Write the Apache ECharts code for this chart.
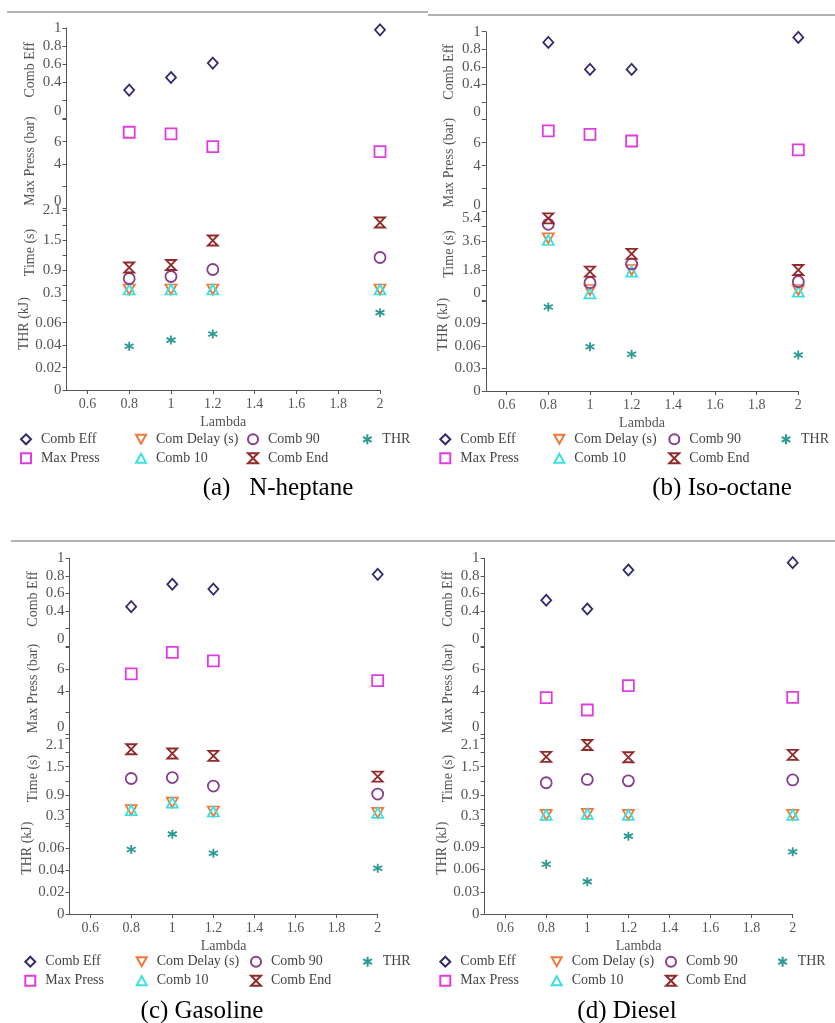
<!DOCTYPE html>
<html>
<head>
<meta charset="utf-8">
<script src="https://cdn.jsdelivr.net/npm/echarts@6/dist/echarts.min.js"></script>
<style>
  html, body { margin: 0; padding: 0; background: #fff; }
  #chart { width: 835px; height: 1023px; }
</style>
</head>
<body>
<div id="chart"></div>
<script>
// lambda values shared by all four fuels
const lambda = [0.8, 1, 1.2, 2];

// (a) N-heptane
const heptaneCombEff = [0.31, 0.45, 0.61, 0.98];
const heptaneMaxPress = [6.85, 6.7, 5.55, 5.1];
const heptaneDelay = [0.51, 0.51, 0.51, 0.51];
const heptaneComb10 = [0.51, 0.51, 0.51, 0.51];
const heptaneComb90 = [0.73, 0.77, 0.91, 1.15];
const heptaneCombEnd = [0.95, 1.0, 1.49, 1.85];
const heptaneThr = [0.039, 0.0445, 0.05, 0.069];

// (b) Iso-octane
const isoCombEff = [0.878, 0.57, 0.57, 0.935];
const isoMaxPress = [7.02, 6.73, 6.15, 5.37];
const isoDelay = [3.76, 0.61, 1.83, 0.61];
const isoComb10 = [3.66, 0.41, 1.73, 0.51];
const isoComb90 = [4.62, 1.06, 2.2, 1.12];
const isoCombEnd = [4.98, 1.73, 2.81, 1.83];
const isoThr = [0.112, 0.059, 0.049, 0.048];

// (c) Gasoline
const gasCombEff = [0.45, 0.705, 0.65, 0.818];
const gasMaxPress = [5.56, 7.56, 6.78, 4.94];
const gasDelay = [0.58, 0.74, 0.55, 0.52];
const gasComb10 = [0.58, 0.74, 0.55, 0.52];
const gasComb90 = [1.25, 1.27, 1.09, 0.92];
const gasCombEnd = [1.87, 1.78, 1.73, 1.29];
const gasThr = [0.059, 0.073, 0.0555, 0.0418];

// (d) Diesel
const dieselCombEff = [0.523, 0.424, 0.867, 0.95];
const dieselMaxPress = [3.36, 2.22, 4.47, 3.4];
const dieselDelay = [0.48, 0.5, 0.48, 0.48];
const dieselComb10 = [0.48, 0.5, 0.48, 0.48];
const dieselComb90 = [1.16, 1.23, 1.2, 1.22];
const dieselCombEnd = [1.71, 1.96, 1.7, 1.75];
const dieselThr = [0.067, 0.0436, 0.105, 0.084];

// ticks and tick labels
const lambdaTicks = [0.6, 0.8, 1, 1.2, 1.4, 1.6, 1.8, 2];
const effTicks = [0, 0.2, 0.4, 0.6, 0.8, 1];
const effLabels = [0, 0.4, 0.6, 0.8, 1];
const pressTicks = [0, 2, 4, 6, 8];
const pressLabels = [0, 4, 6];
const timeTicksSmall = [0.3, 0.6, 0.9, 1.2, 1.5, 1.8, 2.1];
const timeLabelsSmall = [0.3, 0.9, 1.5, 2.1];
const timeTicksLarge = [0, 0.9, 1.8, 2.7, 3.6, 4.5, 5.4];
const timeLabelsLarge = [0, 1.8, 3.6, 5.4];
const thrTicks08 = [0, 0.02, 0.04, 0.06, 0.08];
const thrLabels08 = [0, 0.02, 0.04, 0.06];
const thrTicks12 = [0, 0.03, 0.06, 0.09, 0.12];
const thrLabels12 = [0, 0.03, 0.06, 0.09];

const seriesNames = ['Comb Eff', 'Max Press', 'Com Delay (s)', 'Comb 10', 'Comb 90', 'Comb End', 'THR'];
const axisNames = ['Comb Eff', 'Max Press (bar)', 'Time (s)', 'THR (kJ)'];

const FONT = '"Liberation Serif", "Times New Roman", serif';
const GREY = '#555';

const marks = {
  'Comb Eff': { symbol: 'diamond', size: [10, 11], color: '#2f2c6e', grid: 0 },
  'Max Press': { symbol: 'rect', size: 11, color: '#e03ce0', grid: 1 },
  'Com Delay (s)': { symbol: 'path://M0,0L10,0L5,9Z', size: [11, 10], color: '#f07838', grid: 2 },
  'Comb 10': { symbol: 'path://M5,0L10,9L0,9Z', size: [11, 10], color: '#3ce0e0', grid: 2 },
  'Comb 90': { symbol: 'circle', size: 11, color: '#853f8c', grid: 2 },
  'Comb End': { symbol: 'path://M0,0L10,0L0,10L10,10Z', size: [10, 10], color: '#922a2a', grid: 2 },
  'THR': { symbol: 'path://M5,0L5,10M0.67,2.5L9.33,7.5M0.67,7.5L9.33,2.5', size: 9, color: '#2a9a92', grid: 3 }
};

const panels = [
  {
    x0: 66.5, x1: 380,
    bounds: [28, 119, 209, 300, 390],
    cal: [[0, 118, 1, 28], [0, 208.3, 8, 119.5], [0.3, 300, 2.1, 210], [0, 390, 0.08, 300.3]],
    time: [timeTicksSmall, timeLabelsSmall], thr: [thrTicks08, thrLabels08], shiftTop: false,
    values: [heptaneCombEff, heptaneMaxPress, heptaneDelay, heptaneComb10, heptaneComb90, heptaneCombEnd, heptaneThr],
    legendX: [25, 140, 252, 367], legendY: 439.3,
    caption: '(a)   N-heptane', capX: 278, capY: 488
  },
  {
    x0: 485.8, x1: 798.3,
    bounds: [31.7, 119.6, 211.6, 300.5, 391],
    cal: [[0, 119.5, 1, 31.7], [0, 211.7, 8, 119.7], [0, 300, 5.4, 211.5], [0, 391, 0.12, 301]],
    time: [timeTicksLarge, timeLabelsLarge], thr: [thrTicks12, thrLabels12], shiftTop: true,
    values: [isoCombEff, isoMaxPress, isoDelay, isoComb10, isoComb90, isoCombEnd, isoThr],
    legendX: [444.3, 558.3, 673.3, 785.7], legendY: 439.3,
    caption: '(b) Iso-octane', capX: 722, capY: 488
  },
  {
    x0: 69.6, x1: 377.7,
    bounds: [558.3, 647, 736, 825, 914],
    cal: [[0, 646.3, 1, 558.3], [0, 734, 8, 647.6], [0.3, 823.3, 2.1, 738.4], [0, 914, 0.08, 826.5]],
    time: [timeTicksSmall, timeLabelsSmall], thr: [thrTicks08, thrLabels08], shiftTop: true,
    values: [gasCombEff, gasMaxPress, gasDelay, gasComb10, gasComb90, gasCombEnd, gasThr],
    legendX: [29.3, 140.7, 255, 367.3], legendY: 961.7,
    caption: '(c) Gasoline', capX: 202, capY: 1011.7
  },
  {
    x0: 484.6, x1: 792.7,
    bounds: [558.3, 647, 736, 825, 914],
    cal: [[0, 646.3, 1, 558.3], [0, 734, 8, 647.6], [0.3, 823.3, 2.1, 738.4], [0, 914, 0.12, 825]],
    time: [timeTicksSmall, timeLabelsSmall], thr: [thrTicks12, thrLabels12], shiftTop: true,
    values: [dieselCombEff, dieselMaxPress, dieselDelay, dieselComb10, dieselComb90, dieselCombEnd, dieselThr],
    legendX: [444.3, 555.7, 670, 782.3], legendY: 961.7,
    caption: '(d) Diesel', capX: 627, capY: 1011.7
  }
];

const legendColumns = [['Comb Eff', 'Max Press'], ['Com Delay (s)', 'Comb 10'], ['Comb 90', 'Comb End'], ['THR']];
// how far each axis name sits above the middle of its strip
const nameLift = [4, 3, 2, 21];

function valueAt(c, px) {
  const [v0, p0, v1, p1] = c;
  return v0 + (p0 - px) * (v1 - v0) / (p0 - p1);
}

const grids = [];
const xAxes = [];
const yAxes = [];
const series = [];
const legends = [];
const graphics = [];

panels.forEach((p) => {
  const tickSets = [[effTicks, effLabels], [pressTicks, pressLabels], p.time, p.thr];
  const base = grids.length;

  for (let i = 0; i < 4; i++) {
    // neighbouring strips overlap by a pixel so the end ticks stay inside
    const top = p.bounds[i] - (i > 0 ? 0.6 : 0);
    const bottom = p.bounds[i + 1] + (i < 3 ? 0.6 : 0);
    const idx = base + i;
    const [ticks, labels] = tickSets[i];
    const lo = i < 3 ? labels[0] : null;
    const hi = i === 2 && p.shiftTop ? labels[labels.length - 1] : null;

    grids.push({
      left: p.x0, top: top, width: p.x1 - p.x0, height: bottom - top,
      containLabel: false, outerBoundsMode: 'none'
    });

    const isBottom = i === 3;
    xAxes.push({
      gridIndex: idx, type: 'value', min: 0.5, max: 2,
      show: isBottom,
      axisLine: { show: true, onZero: false, lineStyle: { color: GREY, width: 1 } },
      axisTick: { show: true, length: 4, customValues: lambdaTicks, lineStyle: { color: GREY } },
      axisLabel: { customValues: lambdaTicks, margin: 7, fontSize: 14, fontFamily: FONT, color: GREY },
      splitLine: { show: false },
      name: isBottom ? 'Lambda' : '', nameLocation: 'middle', nameGap: 25,
      nameTextStyle: { fontSize: 14, fontFamily: FONT, color: GREY }
    });

    yAxes.push({
      gridIndex: idx, type: 'value',
      min: valueAt(p.cal[i], bottom), max: valueAt(p.cal[i], top),
      axisLine: { show: true, lineStyle: { color: GREY, width: 1 } },
      axisTick: { show: true, length: 4, customValues: ticks, lineStyle: { color: GREY } },
      axisLabel: {
        customValues: labels, margin: 5, fontSize: 15, fontFamily: FONT, color: GREY,
        formatter: (v) => {
          if (lo !== null && Math.abs(v - lo) < 1e-9) return '{lo|' + v + '}';
          if (hi !== null && Math.abs(v - hi) < 1e-9) return '{hi|' + v + '}';
          return String(v);
        },
        rich: {
          lo: { padding: [0, 0, 14, 0], fontSize: 15, fontFamily: FONT, color: GREY },
          hi: { padding: [14, 0, 0, 0], fontSize: 15, fontFamily: FONT, color: GREY }
        }
      },
      splitLine: { show: false },
      name: axisNames[i], nameLocation: 'middle', nameRotate: 90, nameGap: 29,
      nameTextStyle: { fontSize: 14, fontFamily: FONT, color: GREY, padding: [0, 0, 0, nameLift[i] * 2] }
    });
  }

  seriesNames.forEach((name, k) => {
    const m = marks[name];
    series.push({
      type: 'scatter', name: name,
      xAxisIndex: base + m.grid, yAxisIndex: base + m.grid,
      symbol: m.symbol, symbolSize: m.size,
      itemStyle: { color: 'rgba(255,255,255,0)', borderColor: m.color, borderWidth: 1.8, opacity: 1 },
      emphasis: { disabled: true },
      data: lambda.map((x, j) => [x, p.values[k][j]])
    });
  });

  legendColumns.forEach((names, c) => {
    legends.push({
      orient: 'vertical', left: p.legendX[c] - 5, top: p.legendY - 7,
      padding: 0, itemWidth: 10, itemHeight: 10, itemGap: 5,
      selectedMode: false,
      textStyle: { fontSize: 14, fontFamily: FONT, color: '#444', lineHeight: 14, padding: [0, 0, 0, 5] },
      data: names
    });
  });

  graphics.push({
    type: 'text', x: p.capX, y: p.capY,
    style: { text: p.caption, font: '25px ' + FONT, fill: '#000', align: 'center', verticalAlign: 'middle' }
  });
});

// separator rules above the panels
graphics.push(
  { type: 'line', shape: { x1: 7, y1: 12, x2: 428, y2: 12 }, style: { stroke: '#999', lineWidth: 1.5 } },
  { type: 'line', shape: { x1: 428, y1: 15, x2: 835, y2: 15 }, style: { stroke: '#999', lineWidth: 1.5 } },
  { type: 'line', shape: { x1: 11, y1: 541, x2: 835, y2: 541 }, style: { stroke: '#999', lineWidth: 1.5 } }
);

const chart = echarts.init(document.getElementById('chart'), null, { renderer: 'canvas' });
chart.setOption({
  backgroundColor: '#fff',
  animation: false,
  grid: grids,
  xAxis: xAxes,
  yAxis: yAxes,
  legend: legends,
  series: series,
  graphic: graphics
});
</script>
</body>
</html>
